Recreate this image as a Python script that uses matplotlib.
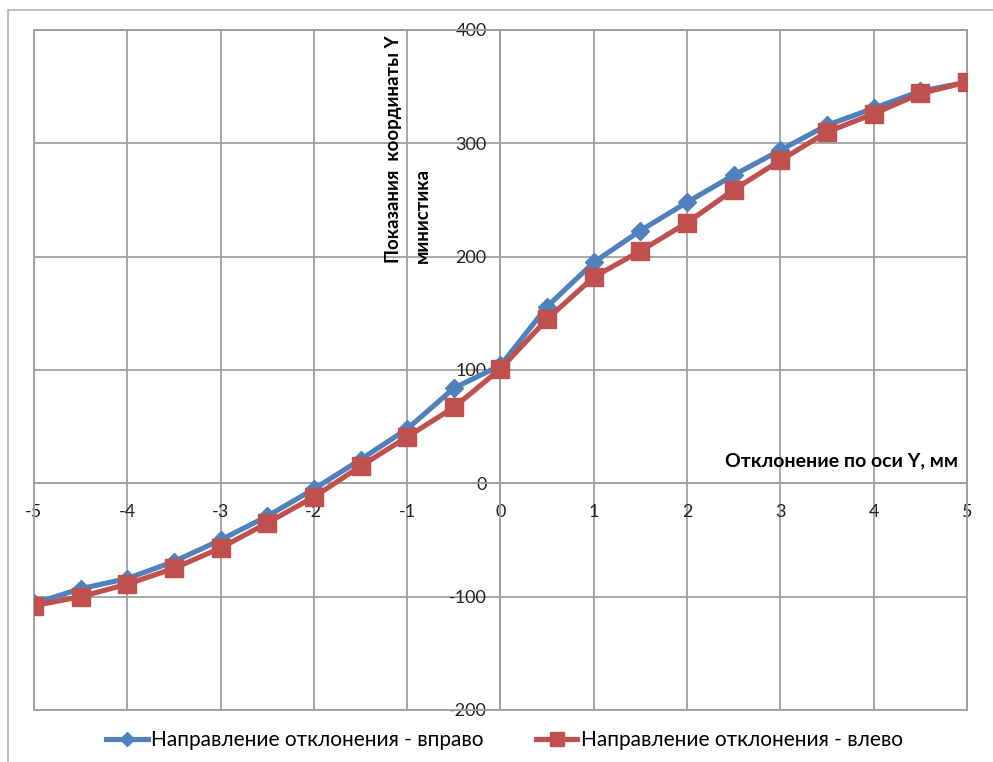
import numpy as np
import matplotlib.pyplot as plt
from matplotlib.patches import Rectangle

plt.rcParams['font.family'] = ['Lato', 'DejaVu Sans']
plt.rcParams['axes.unicode_minus'] = False

# Deviation along Y axis, mm
x_mm = [-5, -4.5, -4, -3.5, -3, -2.5, -2, -1.5, -1, -0.5, 0,
        0.5, 1, 1.5, 2, 2.5, 3, 3.5, 4, 4.5, 5]

# Indicator readings
y_right = [-106, -93, -84, -69, -50, -29, -5, 21, 48, 84, 104,
           156, 195, 223, 248, 272, 294, 316, 331, 346, 354]
y_left = [-108, -100, -89, -75, -57, -35, -12, 15, 41, 67, 101,
          145, 182, 205, 230, 259, 285, 310, 326, 344, 354]

x_ticks = [-5, -4, -3, -2, -1, 0, 1, 2, 3, 4, 5]
y_ticks = [-200, -100, 0, 100, 200, 300, 400]

blue = '#4F81BD'
red = '#C0504D'
grid_c = '#a0a0a0'

fig = plt.figure(figsize=(9.93, 7.62), dpi=100)
ax = fig.add_axes([34/993, 1 - 710/762, (967-34)/993, (710-30)/762])

# outer chart border (left and top edges visible)
fig.patches.append(Rectangle((8/993, -0.01), 1.0, 1 - 10/762 + 0.01,
                             transform=fig.transFigure, fill=False,
                             edgecolor='#b0b0b0', linewidth=1.2))

ax.plot(x_mm, y_right, color=blue, linewidth=3.7, marker='D', markersize=9,
        label='Направление отклонения - вправо', zorder=3)
ax.plot(x_mm, y_left, color=red, linewidth=3.7, marker='s', markersize=12.5,
        label='Направление отклонения - влево', zorder=4)

ax.set_xlim(-5, 5)
ax.set_ylim(-200, 400)
ax.set_xticks(x_ticks)
ax.set_yticks(y_ticks)
ax.grid(True, color=grid_c, linewidth=1.3)

for s in ['top', 'right']:
    ax.spines[s].set_color(grid_c)
    ax.spines[s].set_linewidth(1.3)
ax.spines['left'].set_position(('data', 0))
ax.spines['bottom'].set_position(('data', 0))
ax.spines['left'].set_color(grid_c)
ax.spines['bottom'].set_color(grid_c)
ax.spines['left'].set_linewidth(1.3)
ax.spines['bottom'].set_linewidth(1.3)
ax.add_patch(Rectangle((0, 0), 1, 1, transform=ax.transAxes, fill=False,
                       edgecolor=grid_c, linewidth=1.3, clip_on=False, zorder=2))

ax.tick_params(axis='both', length=0, labelsize=13, colors='#222222')
ax.tick_params(axis='x', pad=15)
ax.tick_params(axis='y', pad=10)

ax.text(-1.15, 194, 'Показания  координаты Y', rotation=90, fontsize=13.5,
        fontweight='bold', ha='center', va='bottom')
ax.text(-0.84, 194, 'министика', rotation=90, fontsize=13.5,
        fontweight='bold', ha='center', va='bottom')
ax.text(4.9, 12, 'Отклонение по оси Y, мм', fontsize=14, fontweight='bold',
        ha='right', va='bottom')

leg = fig.legend(loc='center', bbox_to_anchor=(0.508, 1 - 740/762), ncol=2,
                 frameon=False, fontsize=15, handlelength=2.0,
                 handletextpad=0.15, columnspacing=2.5, markerscale=0.75)

fig.savefig('out.png', dpi=100)
